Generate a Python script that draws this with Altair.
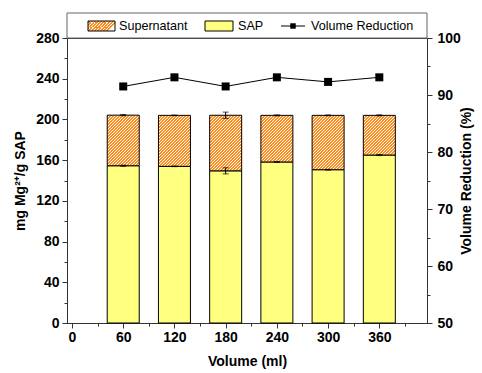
import altair as alt
import pandas as pd

# Adsorbed Mg2+ per gram of SAP, split into SAP-bound and supernatant parts
volumes = [60, 120, 180, 240, 300, 360]
sap = [154.5, 153.9, 149.5, 158.2, 150.6, 165.0]
total = [204.2, 204.0, 204.1, 204.0, 204.0, 204.0]
sap_err = [0.6, 0.3, 3.0, 0.4, 0.4, 0.5]
total_err = [0.6, 0.3, 3.1, 0.5, 0.4, 0.5]
reduction = [91.5, 93.1, 91.5, 93.1, 92.3, 93.1]

FONT = "Liberation Sans"
W, H = 360, 285
Y_MAX = 280
BAR_W = 32
YELLOW = "#FFFF80"
ORANGE = "#FF8C1A"
AXIS_COLOR = "#333333"

df = pd.DataFrame({
    "volume": volumes,
    "sap": sap,
    "total": total,
    "sap_lo": [s - e for s, e in zip(sap, sap_err)],
    "sap_hi": [s + e for s, e in zip(sap, sap_err)],
    "tot_lo": [t - e for t, e in zip(total, total_err)],
    "tot_hi": [t + e for t, e in zip(total, total_err)],
    "reduction": reduction,
})


def hatch(w, h, period=3.0, ratio=2 / 3, color=ORANGE):
    """45-degree stripe fill for a w x h box, as a hard-stop linear gradient."""
    s = h / w
    dt = period / (w + h * h / w)
    stops = []
    i = 0
    while i * dt < 1:
        a = i * dt
        b = min(a + ratio * dt, 1)
        c = min((i + 1) * dt, 1)
        stops += [
            {"offset": a, "color": color},
            {"offset": b, "color": color},
            {"offset": b, "color": "white"},
            {"offset": c, "color": "white"},
        ]
        i += 1
    return {"gradient": "linear", "x1": 0, "y1": 0, "x2": 1, "y2": s, "stops": stops}


x_enc = alt.X(
    "volume:Q",
    scale=alt.Scale(domain=[0, 410], nice=False, zero=False),
    axis=alt.Axis(
        title="Volume (ml)",
        values=list(range(0, 391, 30)),
        labelExpr="datum.value % 60 === 0 ? datum.label : ''",
        tickSize={"condition": {"test": "datum.value % 60 === 0", "value": 5}, "value": 3},
        grid=False,
        labelFontWeight="bold",
        labelFontSize=14,
        labelPadding=2,
        titleFontWeight="bold",
        titleFontSize=14,
        titlePadding=10,
    ),
)

left_axis = alt.Axis(
    title="mg Mg²⁺/g SAP",
    values=list(range(0, Y_MAX + 1, 20)),
    labelExpr="datum.value % 40 === 0 ? datum.label : ''",
    tickSize={"condition": {"test": "datum.value % 40 === 0", "value": 5}, "value": 3},
    grid=False,
    labelFontWeight="bold",
    labelFontSize=14,
    labelPadding=3,
    titleFontWeight="bold",
    titleFontSize=14,
    titlePadding=8,
)
left_scale = alt.Scale(domain=[0, Y_MAX], nice=False)

base = alt.Chart(df)

sap_bars = base.mark_bar(size=BAR_W, fill=YELLOW, stroke="black", strokeWidth=1).encode(
    x=x_enc,
    y=alt.Y("sap:Q", scale=left_scale, axis=left_axis),
    y2=alt.value(H),
)

# Supernatant segments, one layer per volume so each gets its own stripe fill
sup_layers = []
for v, s_val, t_val in zip(volumes, sap, total):
    seg_h = (t_val - s_val) * H / Y_MAX
    sup_layers.append(
        base.transform_filter(alt.datum.volume == v)
        .mark_bar(size=BAR_W, fill=hatch(BAR_W, seg_h), stroke="black", strokeWidth=1)
        .encode(
            x=x_enc,
            y=alt.Y("total:Q", scale=left_scale, axis=left_axis),
            y2="sap:Q",
        )
    )

err_sap = base.mark_rule(color="black", strokeWidth=1).encode(
    x=x_enc, y=alt.Y("sap_lo:Q", scale=left_scale, axis=left_axis), y2="sap_hi:Q"
)
err_tot = base.mark_rule(color="black", strokeWidth=1).encode(
    x=x_enc, y=alt.Y("tot_lo:Q", scale=left_scale, axis=left_axis), y2="tot_hi:Q"
)
caps = []
for f in ["sap_lo", "sap_hi", "tot_lo", "tot_hi"]:
    caps.append(
        base.mark_tick(orient="horizontal", size=6, thickness=1, color="black").encode(
            x=x_enc, y=alt.Y(f"{f}:Q", scale=left_scale, axis=left_axis)
        )
    )

left = alt.layer(sap_bars, *sup_layers, err_sap, err_tot, *caps)

right_axis = alt.Axis(
    title="Volume Reduction (%)",
    orient="right",
    values=list(range(50, 101, 5)),
    labelExpr="datum.value % 10 === 0 ? datum.label : ''",
    tickSize={"condition": {"test": "datum.value % 10 === 0", "value": 5}, "value": 3},
    grid=False,
    labelFontWeight="bold",
    labelFontSize=14,
    labelPadding=5,
    titleFontWeight="bold",
    titleFontSize=14,
    titlePadding=13,
    titleAngle=270,
)
right_scale = alt.Scale(domain=[50, 100], nice=False, zero=False)

red_line = base.mark_line(color="black", strokeWidth=1).encode(
    x=x_enc, y=alt.Y("reduction:Q", scale=right_scale, axis=right_axis)
)
red_pts = base.mark_point(shape="square", size=64, filled=True, color="black", opacity=1).encode(
    x=x_enc, y=alt.Y("reduction:Q", scale=right_scale, axis=right_axis)
)
right = alt.layer(red_line, red_pts)

# Legend strip above the plot frame
one = pd.DataFrame({"k": [0]})
leg = alt.Chart(one)
legend_box = leg.mark_rect(fill="white", stroke="#666666", strokeWidth=1).encode(
    x=alt.value(0), x2=alt.value(W), y=alt.value(-25), y2=alt.value(0)
)
sw_sup = leg.mark_rect(fill=hatch(27, 10), stroke="black", strokeWidth=1).encode(
    x=alt.value(21), x2=alt.value(48), y=alt.value(-17), y2=alt.value(-7)
)
sw_sap = leg.mark_rect(fill=YELLOW, stroke="black", strokeWidth=1).encode(
    x=alt.value(138), x2=alt.value(166), y=alt.value(-17), y2=alt.value(-7)
)
leg_line = leg.mark_rule(color="black", strokeWidth=1).encode(
    x=alt.value(214), x2=alt.value(238), y=alt.value(-12)
)
leg_sq = leg.mark_point(shape="square", size=30, filled=True, color="black", opacity=1).encode(
    x=alt.value(226), y=alt.value(-12)
)
text_style = dict(font=FONT, fontSize=12.6, align="left", baseline="middle", color="black")
t1 = leg.mark_text(text="Supernatant", **text_style).encode(x=alt.value(52), y=alt.value(-12))
t2 = leg.mark_text(text="SAP", **text_style).encode(x=alt.value(171), y=alt.value(-12))
t3 = leg.mark_text(text="Volume Reduction", **text_style).encode(x=alt.value(244), y=alt.value(-12))

legend = alt.layer(legend_box, sw_sup, sw_sap, leg_line, leg_sq, t1, t2, t3)

chart = (
    alt.layer(left, right, legend)
    .resolve_scale(y="independent")
    .properties(
        width=W,
        height=H,
        autosize=alt.AutoSizeParams(type="none"),
        padding={"left": 67, "top": 38, "right": 55, "bottom": 50},
        background="white",
    )
    .configure_view(stroke=AXIS_COLOR, strokeWidth=1)
    .configure_axis(
        labelFont=FONT,
        titleFont=FONT,
        labelColor="black",
        titleColor="black",
        domainColor=AXIS_COLOR,
        tickColor=AXIS_COLOR,
        domainWidth=1,
        tickWidth=1,
        labelOverlap=False,
    )
)

chart.save("out.html", embed_options={"renderer": "svg", "actions": False})
